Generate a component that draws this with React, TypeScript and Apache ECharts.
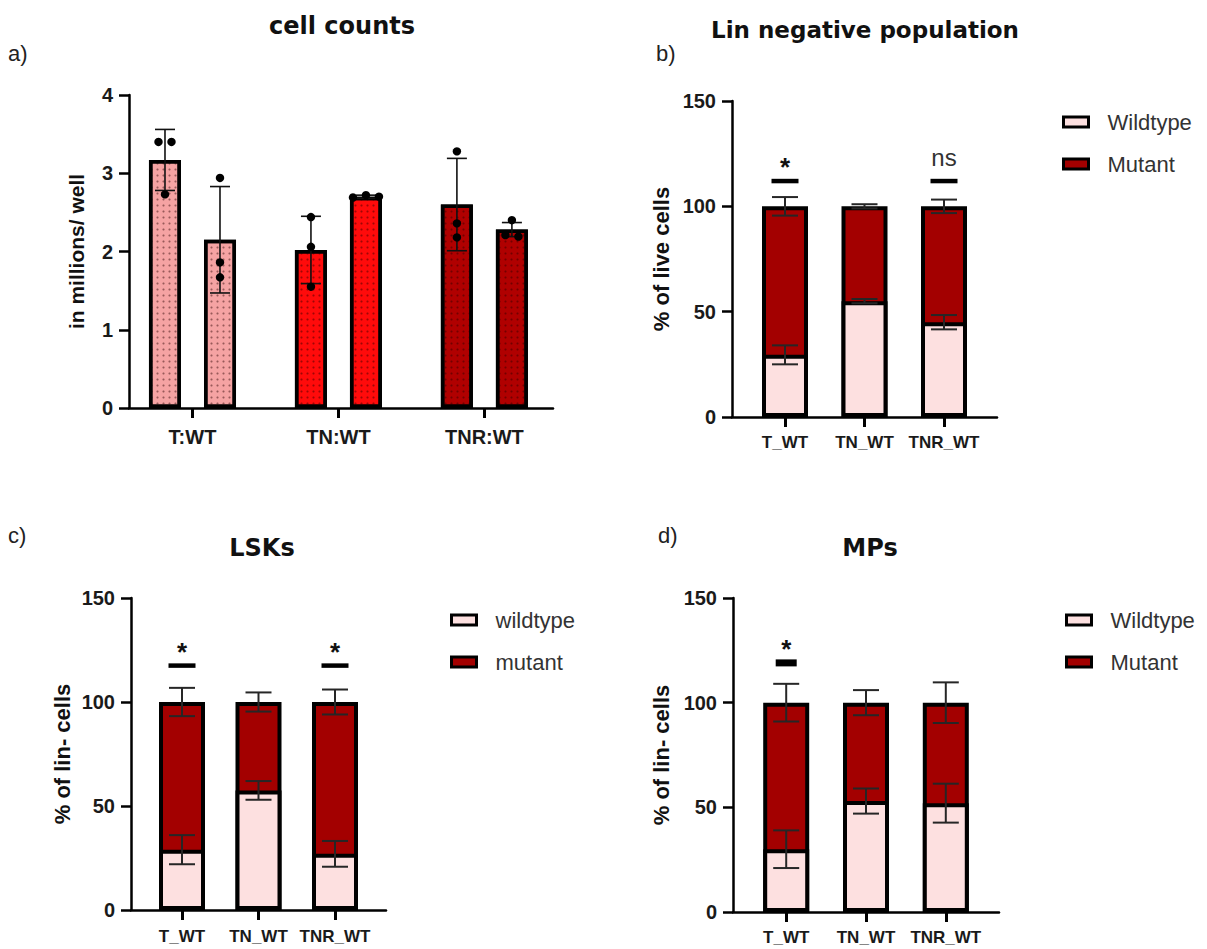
import React, { useEffect, useRef } from "react";
import * as echarts from "echarts";

// ---------------- data ----------------
const countCategories = ["T:WT", "TN:WT", "TNR:WT"];
const countMeanFirst = [3.17, 2.02, 2.6];
const countSdFirst = [0.39, 0.43, 0.59];
const countMeanSecond = [2.15, 2.7, 2.28];
const countSdSecond = [0.68, 0.02, 0.09];
const countPointsFirst = [
  [3.4, 3.4, 2.73],
  [2.44, 2.06, 1.55],
  [3.28, 2.36, 2.18],
];
const countPointsSecond = [
  [2.94, 1.86, 1.67],
  [2.69, 2.72, 2.7],
  [2.4, 2.21, 2.19],
];
const countYMax = 4;
const countYStep = 1;

const stackCategories = ["T_WT", "TN_WT", "TNR_WT"];
const pctYMax = 150;
const pctYStep = 50;

const linWildtype = [29.5, 55, 45];
const linWildtypeErr = [4.5, 1, 3.4];
const linMutant = [70.5, 45, 55];
const linMutantErr = [4.4, 1, 3.2];
const linSigText = ["*", "", "ns"];
const linSigLevel = [112, 0, 112];

const lskWildtype = [29, 57.5, 27];
const lskWildtypeErr = [7, 4.5, 6.2];
const lskMutant = [71, 42.5, 73];
const lskMutantErr = [6.8, 4.6, 6];
const lskSigText = ["*", "", "*"];
const lskSigLevel = [117.5, 0, 117.5];

const mpWildtype = [30, 53, 52];
const mpWildtypeErr = [9, 6, 9.3];
const mpMutant = [70, 47, 48];
const mpMutantErr = [9, 6, 9.7];
const mpSigText = ["*", "", ""];
const mpSigLevel = [119, 0, 0];

// ---------------- styles ----------------
const countColors = ["#f5a3a3", "#ff0b0b", "#b00000"];
const WT_COLOR = "#fde0e0";
const MUT_COLOR = "#a30000";
const SANS = "'Liberation Sans', Arial, sans-serif";
const TITLE = "'DejaVu Sans', sans-serif";

const dotDecal = {
  symbol: "circle",
  symbolSize: 0.7,
  dashArrayX: [3, 3],
  dashArrayY: [2.5, 3],
  color: "rgba(40,0,0,0.45)",
};

function swarmRanks(values: number[], tol: number): number[] {
  const ranks = values.map(() => 0);
  const used = values.map(() => false);
  for (let i = 0; i < values.length; i++) {
    if (used[i]) continue;
    const group = [i];
    used[i] = true;
    for (let j = i + 1; j < values.length; j++) {
      if (!used[j] && Math.abs(values[j] - values[i]) < tol) {
        group.push(j);
        used[j] = true;
      }
    }
    group.forEach((g, k) => (ranks[g] = k - (group.length - 1) / 2));
  }
  return ranks;
}

function errorBarRenderer(capHalf: number, lineWidth: number, color: string, sideOffset: number) {
  return (params: any, api: any) => {
    const x = api.value(0);
    const y = api.value(1);
    const e = api.value(2);
    const side = api.value(3) || 0;
    const t = api.coord([x, y + e]);
    const b = api.coord([x, y - e]);
    const cx = t[0] + side * sideOffset;
    const st = { stroke: color, lineWidth };
    return {
      type: "group",
      children: [
        { type: "line", shape: { x1: cx, y1: t[1], x2: cx, y2: b[1] }, style: st },
        { type: "line", shape: { x1: cx - capHalf, y1: t[1], x2: cx + capHalf, y2: t[1] }, style: st },
        { type: "line", shape: { x1: cx - capHalf, y1: b[1], x2: cx + capHalf, y2: b[1] }, style: st },
      ],
    };
  };
}

function sigRenderer(texts: string[], barW: number, barH: number) {
  return (params: any, api: any) => {
    const idx = api.value(2);
    const p = api.coord([api.value(0), api.value(1)]);
    const t = texts[idx];
    const isStar = t === "*";
    return {
      type: "group",
      children: [
        {
          type: "rect",
          shape: { x: p[0] - barW / 2, y: p[1] - barH / 2, width: barW, height: barH },
          style: { fill: "#000" },
        },
        {
          type: "text",
          x: p[0],
          y: p[1] - (isStar ? 14 : 24),
          style: {
            text: t,
            fill: isStar ? "#111" : "#333",
            font: isStar ? `bold 26px ${SANS}` : `24px ${SANS}`,
            align: "center",
            verticalAlign: "middle",
            textAlign: "center",
            textVerticalAlign: "middle",
          },
        },
      ],
    };
  };
}

function stackedSeries(
  g: number,
  names: string[],
  wt: number[],
  wtErr: number[],
  mut: number[],
  mutErr: number[],
  sigText: string[],
  sigLevel: number[],
  sigW: number,
  sigH: number
) {
  const base = { type: "bar", xAxisIndex: g, yAxisIndex: g, barWidth: 46, barGap: "-100%" };
  // cumulative tops: the mutant segment sits on top of the wildtype one
  const totals = wt.map((v, i) => v + mut[i]);
  return [
    {
      ...base,
      name: names[1],
      data: totals.map((v, i) => [i + 1, v]),
      itemStyle: { color: MUT_COLOR, borderColor: "#000", borderWidth: 4 },
      z: 2,
    },
    {
      ...base,
      name: names[0],
      data: wt.map((v, i) => [i + 1, v]),
      itemStyle: { color: WT_COLOR, borderColor: "#000", borderWidth: 4 },
      z: 3,
    },
    {
      type: "custom",
      xAxisIndex: g,
      yAxisIndex: g,
      z: 5,
      renderItem: errorBarRenderer(13, 2, "#262626", 0),
      data: [
        ...wt.map((v, i) => [i + 1, v, wtErr[i], 0]),
        ...totals.map((v, i) => [i + 1, v, mutErr[i], 0]),
      ],
    },
    {
      type: "custom",
      xAxisIndex: g,
      yAxisIndex: g,
      z: 5,
      renderItem: sigRenderer(sigText, sigW, sigH),
      data: sigText
        .map((t, i) => (t ? [i + 1, sigLevel[i], i] : null))
        .filter((d) => d !== null),
    },
  ];
}

function buildOption() {
  const grids = [
    { left: 129, top: 95, width: 424, height: 313 },
    { left: 732, top: 101, width: 265, height: 316 },
    { left: 131, top: 598, width: 255, height: 312 },
    { left: 733, top: 598, width: 266, height: 314 },
  ].map((g) => ({ ...g, containLabel: false, outerBoundsMode: "none" }));

  const xRanges = [
    [0.565, 3.47],
    [1 / 3, 11 / 3],
    [1 / 3, 11 / 3],
    [1 / 3, 11 / 3],
  ];
  const cats = [countCategories, stackCategories, stackCategories, stackCategories];
  const xLabelSize = [20, 17, 17, 17];
  const xLabelMargin = [19, 17, 18, 17];

  const xAxis = grids.map((_, g) => ({
    type: "value",
    gridIndex: g,
    min: xRanges[g][0],
    max: xRanges[g][1],
    splitLine: { show: false },
    axisLine: { show: true, onZero: false, lineStyle: { color: "#000", width: 2.5 } },
    axisTick: { show: true, customValues: [1, 2, 3], length: 10, lineStyle: { color: "#000", width: 3 } },
    axisLabel: {
      customValues: [1, 2, 3],
      formatter: (v: number) => cats[g][Math.round(v) - 1] || "",
      margin: xLabelMargin[g],
      fontSize: xLabelSize[g],
      fontWeight: "bold",
      fontFamily: SANS,
      color: "#1a1a1a",
    },
  }));

  const yNames = ["in millions/ well", "% of live cells", "% of lin- cells", "% of lin- cells"];
  const yNameGap = [42, 60, 58, 61];
  const yNameSize = [21, 22, 22, 22];
  const yAxis = grids.map((_, g) => ({
    type: "value",
    gridIndex: g,
    min: 0,
    max: g === 0 ? countYMax : pctYMax,
    interval: g === 0 ? countYStep : pctYStep,
    splitLine: { show: false },
    axisLine: { show: true, lineStyle: { color: "#000", width: 2.5 } },
    axisTick: { show: true, length: 10, lineStyle: { color: "#000", width: 2.5 } },
    axisLabel: {
      margin: 16,
      fontSize: g === 0 ? 20 : 20,
      fontWeight: "bold",
      fontFamily: SANS,
      color: "#1a1a1a",
    },
    name: yNames[g],
    nameLocation: "middle",
    nameRotate: 90,
    nameGap: yNameGap[g],
    nameTextStyle: { fontSize: yNameSize[g], fontWeight: "bold", fontFamily: SANS, color: "#111" },
  }));

  const series: any[] = [];
  // panel a bars
  [countMeanFirst, countMeanSecond].forEach((means) => {
    series.push({
      type: "bar",
      xAxisIndex: 0,
      yAxisIndex: 0,
      barWidth: 32,
      barGap: "72%",
      data: means.map((v, i) => ({ value: [i + 1, v], itemStyle: { color: countColors[i], decal: dotDecal } })),
      itemStyle: { borderColor: "#000", borderWidth: 3.5 },
      z: 2,
    });
  });
  // panel a error bars
  series.push({
    type: "custom",
    xAxisIndex: 0,
    yAxisIndex: 0,
    z: 4,
    renderItem: errorBarRenderer(10, 1.6, "#111", 27.5),
    data: [
      ...countMeanFirst.map((v, i) => [i + 1, v, countSdFirst[i], -1]),
      ...countMeanSecond.map((v, i) => [i + 1, v, countSdSecond[i], 1]),
    ],
  });
  // panel a points
  const pts: number[][] = [];
  [countPointsFirst, countPointsSecond].forEach((groups, s) => {
    groups.forEach((vals, i) => {
      const r = swarmRanks(vals, 0.1);
      vals.forEach((v, k) => pts.push([i + 1, v, s === 0 ? -1 : 1, r[k]]));
    });
  });
  series.push({
    type: "custom",
    xAxisIndex: 0,
    yAxisIndex: 0,
    z: 6,
    renderItem: (params: any, api: any) => {
      const p = api.coord([api.value(0), api.value(1)]);
      return {
        type: "circle",
        shape: { cx: p[0] + api.value(2) * 27.5 + api.value(3) * 13, cy: p[1], r: 4.2 },
        style: { fill: "#000" },
      };
    },
    data: pts,
  });

  series.push(
    ...stackedSeries(1, ["Wildtype", "Mutant"], linWildtype, linWildtypeErr, linMutant, linMutantErr, linSigText, linSigLevel, 27, 4.5),
    ...stackedSeries(2, ["wildtype", "mutant"], lskWildtype, lskWildtypeErr, lskMutant, lskMutantErr, lskSigText, lskSigLevel, 27, 4.5),
    ...stackedSeries(3, ["Wildtype", "Mutant"], mpWildtype, mpWildtypeErr, mpMutant, mpMutantErr, mpSigText, mpSigLevel, 21, 7)
  );

  const legendBase = {
    orient: "vertical",
    icon: "rect",
    itemWidth: 25,
    itemHeight: 10,
    itemGap: 20,
    padding: 0,
    selectedMode: false,
    itemStyle: { borderColor: "#000", borderWidth: 3 },
    textStyle: { fontSize: 22, color: "#333", fontFamily: SANS, padding: [0, 0, 0, 14] },
  };
  const legend = [
    { ...legendBase, left: 1062, top: 111, data: ["Wildtype", "Mutant"] },
    { ...legendBase, left: 450, top: 609, data: ["wildtype", "mutant"] },
    { ...legendBase, left: 1065, top: 609, data: ["Wildtype", "Mutant"] },
  ];

  const txt = (text: string, x: number, y: number, font: string, align = "center", fill = "#111") => ({
    type: "text",
    x,
    y,
    style: { text, font, fill, align, verticalAlign: "middle", textAlign: align, textVerticalAlign: "middle" },
  });
  const graphic = [
    txt("cell counts", 342, 26, `bold 24px ${TITLE}`),
    txt("Lin negative population", 865, 30, `bold 23px ${TITLE}`),
    txt("LSKs", 262, 548, `bold 24px ${TITLE}`),
    txt("MPs", 870, 548, `bold 24px ${TITLE}`),
    txt("a)", 8, 53, `22px ${SANS}`, "left", "#222"),
    txt("b)", 656, 53, `22px ${SANS}`, "left", "#222"),
    txt("c)", 8, 535, `22px ${SANS}`, "left", "#222"),
    txt("d)", 658, 535, `22px ${SANS}`, "left", "#222"),
  ];

  return {
    animation: false,
    backgroundColor: "#ffffff",
    grid: grids,
    xAxis,
    yAxis,
    legend,
    series,
    graphic,
  };
}

export default function App() {
  const ref = useRef<HTMLDivElement>(null);
  useEffect(() => {
    if (!ref.current) return;
    const chart = echarts.init(ref.current, undefined, { renderer: "svg" });
    chart.setOption(buildOption() as any);
    return () => chart.dispose();
  }, []);
  return (
    <div
      ref={ref}
      style={{ position: "absolute", left: 0, top: 0, width: 1207, height: 949, background: "#fff" }}
    />
  );
}
